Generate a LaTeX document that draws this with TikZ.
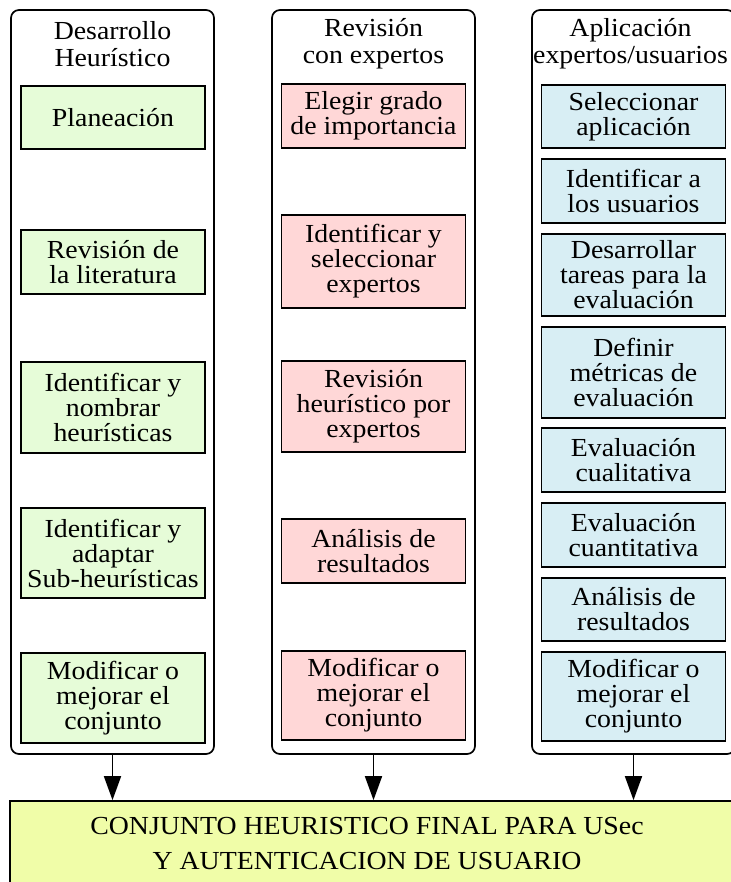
\documentclass[tikz,border=0pt]{standalone}
\usepackage{fontspec}
\setmainfont{Liberation Serif}[FakeStretch=1.07]
\usetikzlibrary{positioning,arrows.meta,calc}

\definecolor{verde}{HTML}{E6FCD8}
\definecolor{rosa}{HTML}{FFD7D7}
\definecolor{celeste}{HTML}{D8EEF4}
\definecolor{amarillo}{HTML}{F0FDA8}

\begin{document}
\begin{tikzpicture} [x=1pt, y=-1pt,
      font=\fontsize{26}{25}\selectfont,
      etapa/.style={draw, line width=1.7pt, rounded corners=8pt,
        minimum width=203pt, minimum height=744pt},
      tarea/.style={draw, line width=1.7pt, minimum width=184pt,
        align=center, inner sep=2pt},
      titulo/.style={align=center, inner sep=0pt,
        font=\fontsize{26}{27}\selectfont},
      flecha/.style={-{Triangle[length=24pt,width=17pt]}, line width=1.7pt}]

      \useasboundingbox (0,0) rectangle (730,882);

      % columnas
      \node[etapa] (col1) at (112.5,382) {};
      \node[etapa] (col2) at (373.5,382) {};
      \node[etapa] (col3) at (633.5,382) {};

      \node[titulo] (t1) at (112.5,44) {Desarrollo\\Heurístico};
      \node[titulo] (t2) at (373.5,44) {Revisión\\con expertos};
      \node[titulo] (t3) at (630.5,44) {Aplicación\\expertos/usuarios};

      % desarrollo heuristico
      \foreach \y/\h/\t [count=\i] in {117.5/63/Planeación,
          262/64/Revisión de\\la literatura,
          407.5/91/Identificar y\\nombrar\\heurísticas,
          553/90/Identificar y\\adaptar\\Sub-heurísticas,
          698/90/Modificar o\\mejorar el\\conjunto} {
        \node[tarea, fill=verde, minimum height=\h pt] (d\i) at (113,\y) {\t};
      };

      % revision con expertos
      \foreach \y/\h/\t [count=\i] in {116/64/Elegir grado\\de importancia,
          261.5/93/Identificar y\\seleccionar\\expertos,
          406.5/91/Revisión\\heurístico por\\expertos,
          551/64/Análisis de\\resultados,
          695.5/89/Modificar o\\mejorar el\\conjunto} {
        \node[tarea, fill=rosa, minimum height=\h pt] (r\i) at (373.5,\y) {\t};
      };

      % aplicacion
      \foreach \y/\h/\t [count=\i] in {116.5/63/Seleccionar\\aplicación,
          191/64/Identificar a\\los usuarios,
          275/82/Desarrollar\\tareas para la\\evaluación,
          372.5/91/Definir\\métricas de\\evaluación,
          460/64/Evaluación\\cualitativa,
          535/64/Evaluación\\cuantitativa,
          609.5/63/Análisis de\\resultados,
          696.5/89/Modificar o\\mejorar el\\conjunto} {
        \node[tarea, fill=celeste, minimum height=\h pt] (a\i) at (633.5,\y) {\t};
      };

      % conjunto final
      \node[draw, line width=1.7pt, fill=amarillo, minimum width=740pt,
        minimum height=100pt] (final) at (380,851) {};
      \node[titulo, font=\fontsize{26}{35}\selectfont] (ftxt) at (367,844)
        {CONJUNTO HEURISTICO FINAL PARA USec\\Y AUTENTICACION DE USUARIO};

      \foreach \c in {1, 2, 3} {
        \draw[flecha] (col\c.south) -- (col\c.south |- final.north);
      };
    \end{tikzpicture}
\end{document}
